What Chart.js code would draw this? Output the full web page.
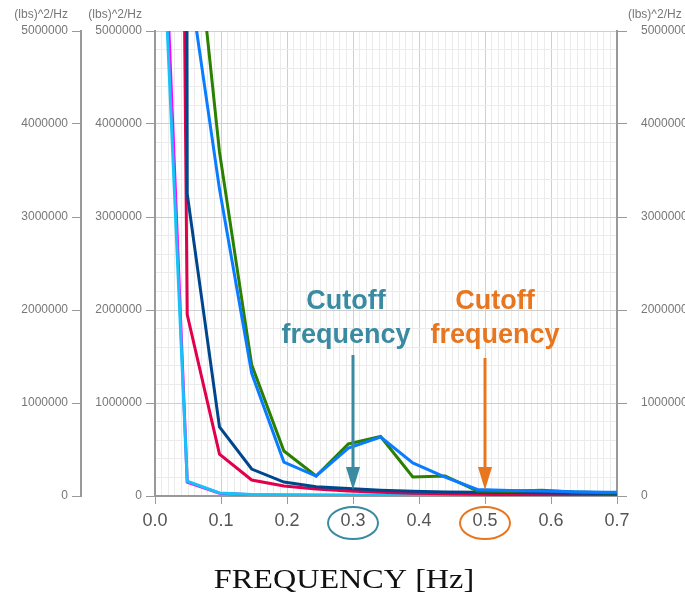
<!DOCTYPE html>
<html lang="en">
<head>
  <meta charset="UTF-8" />
  <title>PSD — Cutoff frequency</title>
  <script src="https://cdn.jsdelivr.net/npm/chart.js"></script>
  <style>
    html, body { margin: 0; padding: 0; overflow: hidden; background: #fff; }
    canvas { display: block; }
  </style>
</head>
<body>
  <canvas id="psdChart" width="700" height="599"></canvas>

  <script>
    // frequency bins [Hz]
    const freqs = [0, 0.0488, 0.0977, 0.1465, 0.1953, 0.2441, 0.2930, 0.3418, 0.3906, 0.4395, 0.4883, 0.5371, 0.5859, 0.6348, 0.6836, 0.7324];

    // PSD per trace [(lbs)^2/Hz]
    const psdBlue    = [3.0e7, 5700000, 3300000, 1320000, 365000, 215000, 516000, 634000, 355000, 204000, 70000, 60000, 55000, 45000, 40000, 38000];
    const psdGreen   = [3.5e7, 7000000, 3700000, 1410000, 484000, 215000, 560000, 640000, 204000, 215000, 55000, 50000, 62000, 42000, 35000, 32000];
    const psdNavy    = [2.0e8, 3250000, 742000, 290000, 150000, 100000, 80000, 62000, 50000, 42000, 40000, 38000, 34000, 30000, 28000, 26000];
    const psdRed     = [4.0e7, 1950000, 450000, 172000, 107000, 75000, 55000, 40000, 30000, 24000, 18000, 15000, 12000, 10000, 9000, 8000];
    const psdCyan    = [8.0e6, 160000, 32000, 15000, 12000, 10000, 9000, 8000, 7000, 6000, 6000, 5000, 5000, 5000, 4000, 4000];
    const psdMagenta = [8.7e6, 150000, 30000, 14000, 11000, 9000, 8000, 7000, 6000, 5000, 5000, 4000, 4000, 4000, 3000, 3000];

    // tick labels
    const xTicks = [0, 0.1, 0.2, 0.3, 0.4, 0.5, 0.6, 0.7];
    const xTickLabels = ['0.0', '0.1', '0.2', '0.3', '0.4', '0.5', '0.6', '0.7'];
    const yTicks = [0, 1000000, 2000000, 3000000, 4000000, 5000000];
    const unitLabel = '(lbs)^2/Hz';
    const xTitle = 'FREQUENCY [Hz]';

    // annotated cutoff frequencies
    const cutoffs = [0.3, 0.5];
    const cutoffText = ['Cutoff', 'frequency'];

    const isMajorX = v => xTicks.some(t => Math.abs(t - v) < 1e-6);
    const isMajorY = v => yTicks.includes(Math.round(v));

    const pts = vals => freqs.map((f, i) => ({ x: f, y: vals[i] }));
    const line = (data, color) => ({
      data: pts(data), borderColor: color, borderWidth: 3,
      pointRadius: 0, tension: 0, fill: false
    });

    const sans = '"Liberation Sans", Arial, sans-serif';

    const overlay = {
      id: 'overlay',
      afterDraw(chart) {
        const ctx = chart.ctx;
        const xs = chart.scales.x;
        ctx.save();

        // unit titles above the value axes
        ctx.font = '12px ' + sans;
        ctx.fillStyle = '#777';
        ctx.textBaseline = 'middle';
        ctx.textAlign = 'right';
        ['yOuter', 'y'].forEach(id => {
          ctx.fillText(unitLabel, chart.scales[id].right - 13, 15);
        });
        ctx.textAlign = 'left';
        ctx.fillText(unitLabel, chart.scales.yRight.left + 11, 15);

        // x axis title, centred on the page like the original
        ctx.save();
        ctx.font = '28px "Liberation Serif", "Times New Roman", serif';
        ctx.fillStyle = '#111';
        ctx.textAlign = 'center';
        ctx.translate(344, 581);
        ctx.scale(1.15, 1);
        ctx.fillText(xTitle, 0, 0);
        ctx.restore();

        // cutoff marks
        const colors = ['#3a8ba1', '#e8761e'];
        const shift = [-7, 10];
        const top = [355, 358];
        cutoffs.forEach((c, i) => {
          const px = xs.getPixelForValue(c);
          ctx.fillStyle = colors[i];
          ctx.strokeStyle = colors[i];

          ctx.font = 'bold 27px ' + sans;
          ctx.textAlign = 'center';
          ctx.fillText(cutoffText[0], px + shift[i], 302);
          ctx.fillText(cutoffText[1], px + shift[i], 336);

          ctx.lineWidth = 3;
          ctx.beginPath();
          ctx.moveTo(px, top[i]);
          ctx.lineTo(px, 470);
          ctx.stroke();
          ctx.beginPath();
          ctx.moveTo(px - 7, 467);
          ctx.lineTo(px + 7, 467);
          ctx.lineTo(px, 490);
          ctx.closePath();
          ctx.fill();

          ctx.lineWidth = 2;
          ctx.beginPath();
          ctx.ellipse(px, 523, 25, 16, 0, 0, Math.PI * 2);
          ctx.stroke();
        });
        ctx.restore();
      }
    };

    new Chart(document.getElementById('psdChart'), {
      type: 'line',
      data: {
        datasets: [
          line(psdBlue, '#0a7cff'),
          line(psdGreen, '#2a8000'),
          line(psdNavy, '#00468c'),
          line(psdRed, '#e0004c'),
          line(psdCyan, '#16c2f6'),
          line(psdMagenta, '#ff00ff')
        ]
      },
      options: {
        responsive: false,
        animation: false,
        layout: { padding: { top: 31, left: 0, right: 0, bottom: 0 } },
        plugins: { legend: { display: false }, tooltip: { enabled: false } },
        scales: {
          x: {
            type: 'linear', min: 0, max: 0.7,
            afterFit: s => { s.height = 103; },
            grid: {
              color: c => isMajorX(c.tick.value) ? '#cfcfcf' : '#ebebeb',
              tickColor: c => isMajorX(c.tick.value) ? '#999' : 'rgba(0,0,0,0)',
              tickLength: 8
            },
            border: { color: '#999', width: 2 },
            ticks: {
              stepSize: 0.01, autoSkip: false, maxRotation: 0, padding: 6,
              color: '#555', font: { family: sans, size: 18 },
              callback: v => {
                const i = xTicks.findIndex(t => Math.abs(t - v) < 1e-6);
                return i >= 0 ? xTickLabels[i] : '';
              }
            }
          },
          y: {
            position: 'left', weight: 0, min: 0, max: 5000000,
            afterFit: s => { s.width = 74; },
            grid: {
              color: c => isMajorY(c.tick.value) ? '#cfcfcf' : '#ebebeb',
              tickColor: c => isMajorY(c.tick.value) ? '#999' : 'rgba(0,0,0,0)',
              tickLength: 9
            },
            border: { color: '#999', width: 2 },
            ticks: {
              stepSize: 200000, autoSkip: false, padding: 4,
              color: '#777', font: { family: sans, size: 12 },
              callback: v => isMajorY(v) ? String(v) : ''
            }
          },
          yOuter: {
            position: 'left', weight: 1, min: 0, max: 5000000,
            afterFit: s => { s.width = 81; },
            grid: { drawOnChartArea: false, tickColor: '#999', tickLength: 9 },
            border: { color: '#999', width: 2 },
            ticks: {
              stepSize: 1000000, padding: 4,
              color: '#777', font: { family: sans, size: 12 },
              callback: v => String(v)
            }
          },
          yRight: {
            position: 'right', min: 0, max: 5000000,
            afterFit: s => { s.width = 83; },
            grid: { drawOnChartArea: false, tickColor: '#999', tickLength: 10 },
            border: { color: '#999', width: 2 },
            ticks: {
              stepSize: 1000000, padding: 14,
              color: '#777', font: { family: sans, size: 12 },
              callback: v => String(v)
            }
          }
        }
      },
      plugins: [overlay]
    });
  </script>
</body>
</html>
